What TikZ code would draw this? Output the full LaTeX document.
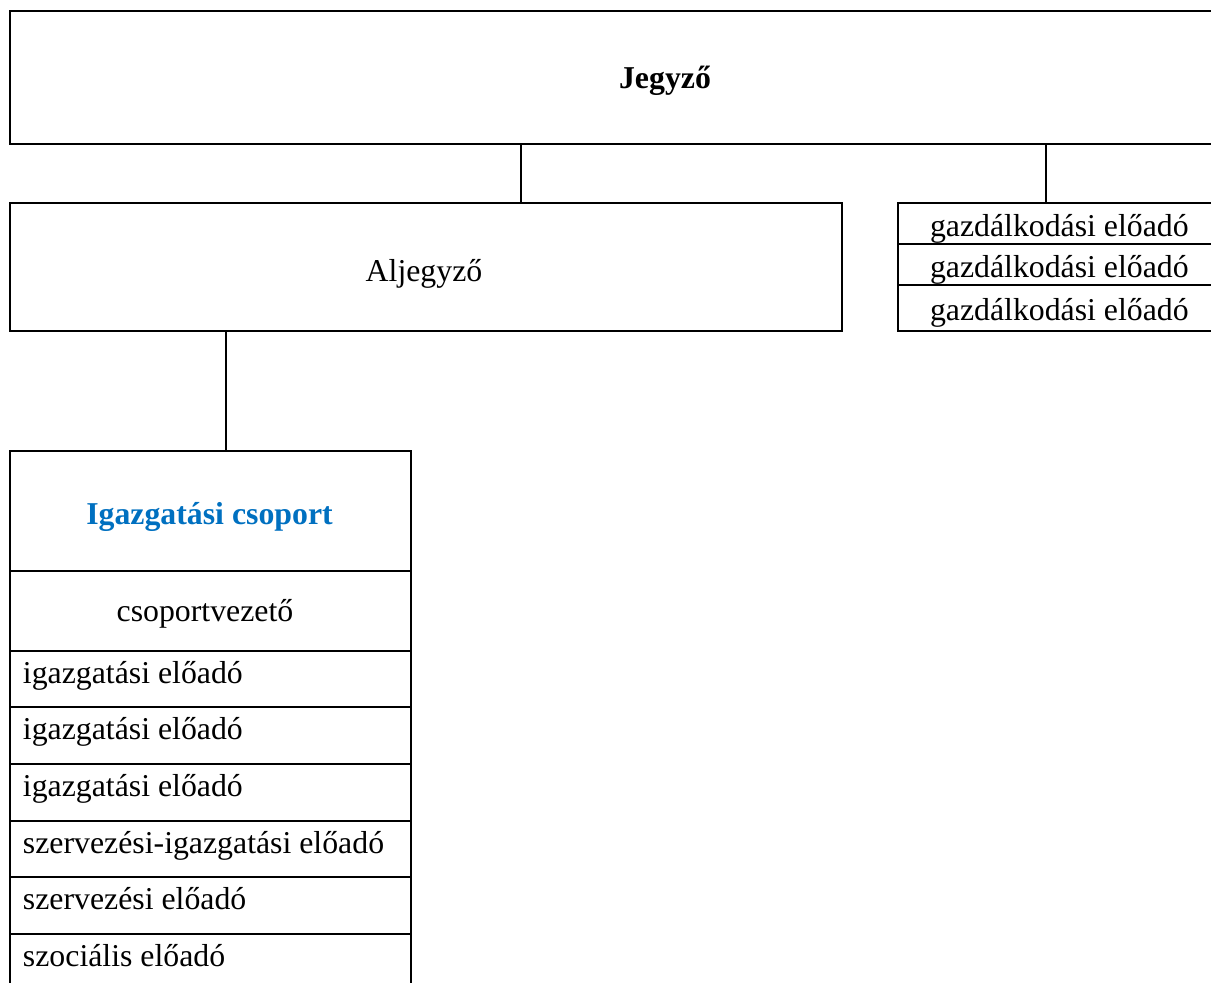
\documentclass[tikz,border=0pt]{standalone}
\usepackage{fontspec}
\setmainfont{Liberation Serif}
\definecolor{igblue}{HTML}{0070C0}
\begin{document}
\begin{tikzpicture}[x=0.5pt,y=-0.5pt,line width=1pt,
  box/.style={draw,rectangle,inner sep=0pt,anchor=north west},
  txt/.style={inner sep=0pt,anchor=base,font=\fontsize{15.9}{19}\selectfont},
  ltxt/.style={txt,anchor=base west}]
\useasboundingbox (0,0) rectangle (1211,982);
\clip (0,0) rectangle (1211,982);
% boxes
\node[box,minimum width=656pt,minimum height=66.5pt] (jegyzo) at (9,10) {};
\node[box,minimum width=416pt,minimum height=64pt] (aljegyzo) at (9,202) {};
\node[box,minimum width=161pt,minimum height=20.5pt] (g1) at (897,202) {};
\node[box,minimum width=161pt,minimum height=20.5pt] (g2) at (897,243) {};
\node[box,minimum width=161pt,minimum height=23pt] (g3) at (897,284) {};
\node[box,minimum width=200.5pt,minimum height=60pt] (igaz) at (9,450) {};
\node[box,minimum width=200.5pt,minimum height=40pt] (csv) at (9,570) {};
\node[box,minimum width=200.5pt,minimum height=28pt] (r1) at (9,650) {};
\node[box,minimum width=200.5pt,minimum height=28.5pt] (r2) at (9,706) {};
\node[box,minimum width=200.5pt,minimum height=28.5pt] (r3) at (9,763) {};
\node[box,minimum width=200.5pt,minimum height=28pt] (r4) at (9,820) {};
\node[box,minimum width=200.5pt,minimum height=28.5pt] (r5) at (9,876) {};
\node[box,minimum width=200.5pt,minimum height=40pt] (r6) at (9,933) {};
% texts
\node[txt,font=\fontsize{15.9}{19}\selectfont\bfseries] (tj) at (665,88) {Jegyző};
\node[txt] (ta) at (424,281) {Aljegyző};
\node[ltxt] (tg1) at (929,236) {gazdálkodási előadó};
\node[ltxt] (tg2) at (929,277) {gazdálkodási előadó};
\node[ltxt] (tg3) at (929,320) {gazdálkodási előadó};
\node[txt,font=\fontsize{15.9}{19}\selectfont\bfseries,text=igblue] (ti) at (209.5,524) {Igazgatási csoport};
\node[txt] (tc) at (205,621) {csoportvezető};
\node[ltxt] (t1) at (22,683) {igazgatási előadó};
\node[ltxt] (t2) at (22,739) {igazgatási előadó};
\node[ltxt] (t3) at (22,796) {igazgatási előadó};
\node[ltxt] (t4) at (22,853) {szervezési-igazgatási előadó};
\node[ltxt] (t5) at (22,909) {szervezési előadó};
\node[ltxt] (t6) at (22,966) {szociális előadó};
% connectors
\coordinate (c1) at (521,0);
\coordinate (c2) at (1046,0);
\coordinate (c3) at (226,0);
\draw (c1 |- jegyzo.south) -- (c1 |- aljegyzo.north);
\draw (c2 |- jegyzo.south) -- (c2 |- g1.north);
\draw (c3 |- aljegyzo.south) -- (c3 |- igaz.north);
\end{tikzpicture}
\end{document}
